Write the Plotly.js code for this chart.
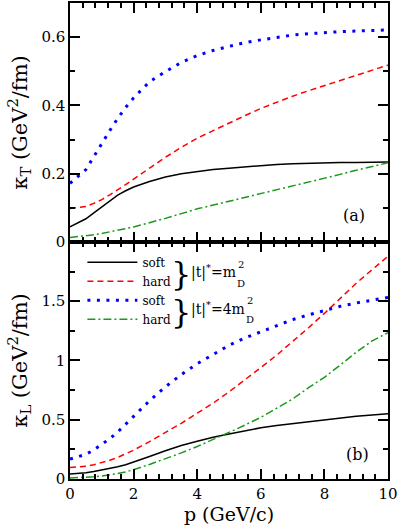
<!DOCTYPE html>
<html>
<head>
<meta charset="utf-8">
<script src="https://cdn.plot.ly/plotly-3.0.1.min.js"></script>
<style>
    html, body { margin: 0; padding: 0; background: #fff; }
    #graph { width: 399px; height: 528px; }
</style>
</head>
<body>
<div id="graph"></div>
<script>
// momentum p (GeV/c), shared by all curves
const pValues = [0, 0.25, 0.5, 0.75, 1, 1.25, 1.5, 1.75, 2, 2.5, 3, 3.5, 4, 4.5, 5,
    5.5, 6, 6.5, 7, 7.5, 8, 8.5, 9, 9.5, 10];

// (a) kappa_T
const kappaTSoftM = [0.044, 0.056, 0.068, 0.085, 0.102, 0.12, 0.137, 0.15, 0.161, 0.177, 0.19, 0.2, 0.207,
    0.212, 0.216, 0.22, 0.224, 0.227, 0.229, 0.231, 0.232, 0.233, 0.233, 0.234, 0.234];
const kappaTHardM = [0.098, 0.1, 0.104, 0.113, 0.124, 0.138, 0.152, 0.168, 0.184, 0.217, 0.248, 0.277, 0.304,
    0.326, 0.349, 0.37, 0.391, 0.41, 0.427, 0.443, 0.458, 0.472, 0.486, 0.501, 0.518];
const kappaTSoft4M = [0.172, 0.192, 0.212, 0.25, 0.29, 0.326, 0.362, 0.394, 0.422, 0.469, 0.499, 0.526, 0.546,
    0.561, 0.573, 0.584, 0.592, 0.6, 0.606, 0.61, 0.614, 0.616, 0.618, 0.62, 0.621];
const kappaTHard4M = [0.013, 0.015, 0.018, 0.021, 0.025, 0.029, 0.034, 0.039, 0.044, 0.056, 0.069, 0.083, 0.097,
    0.108, 0.119, 0.13, 0.141, 0.152, 0.164, 0.175, 0.187, 0.198, 0.21, 0.221, 0.232];

// (b) kappa_L
const kappaLSoftM = [0.042, 0.046, 0.053, 0.063, 0.075, 0.088, 0.103, 0.121, 0.142, 0.19, 0.238, 0.283, 0.318,
    0.353, 0.38, 0.409, 0.432, 0.452, 0.468, 0.484, 0.5, 0.516, 0.53, 0.541, 0.551];
const kappaLHardM = [0.097, 0.1, 0.108, 0.12, 0.137, 0.158, 0.182, 0.211, 0.243, 0.315, 0.39, 0.47, 0.555,
    0.64, 0.735, 0.835, 0.94, 1.045, 1.158, 1.276, 1.397, 1.523, 1.651, 1.766, 1.879];
const kappaLSoft4M = [0.168, 0.185, 0.208, 0.245, 0.29, 0.34, 0.396, 0.462, 0.535, 0.66, 0.778, 0.881, 0.972,
    1.053, 1.127, 1.19, 1.243, 1.297, 1.345, 1.385, 1.42, 1.457, 1.485, 1.508, 1.532];
const kappaLHard4M = [0.008, 0.01, 0.014, 0.019, 0.025, 0.034, 0.046, 0.06, 0.078, 0.123, 0.17, 0.22, 0.274,
    0.332, 0.393, 0.455, 0.52, 0.597, 0.675, 0.77, 0.858, 0.962, 1.07, 1.165, 1.235];

const seriesNames = ['soft', 'hard', 'soft', 'hard'];
const xTicks = [0, 2, 4, 6, 8, 10];
const yTicksT = [0, 0.2, 0.4, 0.6];
const yTicksL = [0, 0.5, 1, 1.5, 2];
const yTickTextL = ['0', '0.5', '1', '1.5', ''];

// Liberation Serif / Times are not picked up here, DejaVu Serif is
const FONT = 'DejaVu Serif';

const lineStyles = [
    {color: '#000000', width: 1.5, dash: 'solid'},
    {color: '#ff0000', width: 1.5, dash: '6px,4px'},
    {color: '#0000ff', width: 3, dash: '3px,6.5px'},
    {color: '#1a9a1a', width: 1.5, dash: '8px,3px,2px,3px'},
];


function makeTraces(ySeries, xaxis, yaxis, inLegend) {
    return ySeries.map((y, i) => ({
        x: pValues,
        y: y,
        xaxis: xaxis,
        yaxis: yaxis,
        mode: 'lines',
        name: seriesNames[i],
        line: lineStyles[i],
        showlegend: inLegend,
        hoverinfo: 'none',
    }));
}


function baseAxis() {
    return {
        showline: true,
        linewidth: 1.5,
        linecolor: '#000',
        mirror: 'allticks',
        ticks: 'inside',
        ticklen: 10,
        tickwidth: 1.5,
        tickcolor: '#000',
        showgrid: false,
        zeroline: false,
        tickfont: {family: FONT, size: 15, color: '#000'},
    };
}

function minorTicks(step) {
    return {dtick: step, tick0: 0, ticks: 'inside', ticklen: 5, tickwidth: 1.5, tickcolor: '#000', showgrid: false};
}

function label(x, y, text, size, xanchor) {
    return {
        xref: 'x', yref: 'y', x: x, y: y, text: text, showarrow: false,
        xanchor: xanchor || 'center', font: {family: FONT, size: size, color: '#000'},
    };
}


function drawGraph() {
    const traces = [
        ...makeTraces([kappaTSoftM, kappaTHardM, kappaTSoft4M, kappaTHard4M], 'x2', 'y2', false),
        ...makeTraces([kappaLSoftM, kappaLHardM, kappaLSoft4M, kappaLHard4M], 'x', 'y', true),
    ];

    const split = 0.498;

    const layout = {
        width: 399,
        height: 528,
        margin: {l: 70, r: 11, t: 3, b: 49},
        paper_bgcolor: '#fff',
        plot_bgcolor: '#fff',
        font: {family: FONT, color: '#000'},

        xaxis: Object.assign(baseAxis(), {
            domain: [0, 1],
            anchor: 'y',
            range: [0, 10],
            tickmode: 'array',
            tickvals: xTicks,
            minor: minorTicks(0.4),
            title: {text: 'p (GeV/c)', font: {family: FONT, size: 19}, standoff: 3},
        }),
        yaxis: Object.assign(baseAxis(), {
            domain: [0, split],
            anchor: 'x',
            range: [0, 2],
            tickmode: 'array',
            tickvals: yTicksL,
            ticktext: yTickTextL,
            minor: minorTicks(0.25),
            title: {text: 'κ<sub>L</sub> (GeV<sup>2</sup>/fm)', font: {family: FONT, size: 21}, standoff: 8},
        }),
        xaxis2: Object.assign(baseAxis(), {
            domain: [0, 1],
            anchor: 'y2',
            range: [0, 10],
            tickmode: 'array',
            tickvals: xTicks,
            showticklabels: false,
            minor: minorTicks(0.4),
        }),
        yaxis2: Object.assign(baseAxis(), {
            domain: [split, 1],
            anchor: 'x2',
            range: [0, 0.7],
            tickmode: 'array',
            tickvals: yTicksT,
            minor: minorTicks(0.1),
            title: {text: 'κ<sub>T</sub> (GeV<sup>2</sup>/fm)', font: {family: FONT, size: 21}, standoff: 8},
        }),

        showlegend: true,
        legend: {
            x: 0.039,
            y: split - 0.012,
            xanchor: 'left',
            yanchor: 'top',
            bgcolor: 'rgba(0,0,0,0)',
            font: {family: FONT, size: 12, color: '#000'},
            itemwidth: 50,
        },

        annotations: [
            Object.assign(label(8.93, 0.078, '(a)', 16), {xref: 'x2', yref: 'y2'}),
            label(9.03, 0.204, '(b)', 16),
            label(3.5, 1.73, '}', 32),
            label(3.5, 1.41, '}', 32),
            label(3.74, 1.747, '|t|<sup>*</sup>=m', 14, 'left'),
            label(5.19, 1.65, 'D', 10, 'left'),
            label(5.23, 1.814, '2', 10, 'left'),
            label(3.74, 1.435, '|t|<sup>*</sup>=4m', 14, 'left'),
            label(5.46, 1.342, 'D', 10, 'left'),
            label(5.5, 1.502, '2', 10, 'left'),
        ],
    };

    const config = {
        displayModeBar: false,
        responsive: false,
    };

    Plotly.newPlot('graph', traces, layout, config);
}

drawGraph();
</script>
</body>
</html>
